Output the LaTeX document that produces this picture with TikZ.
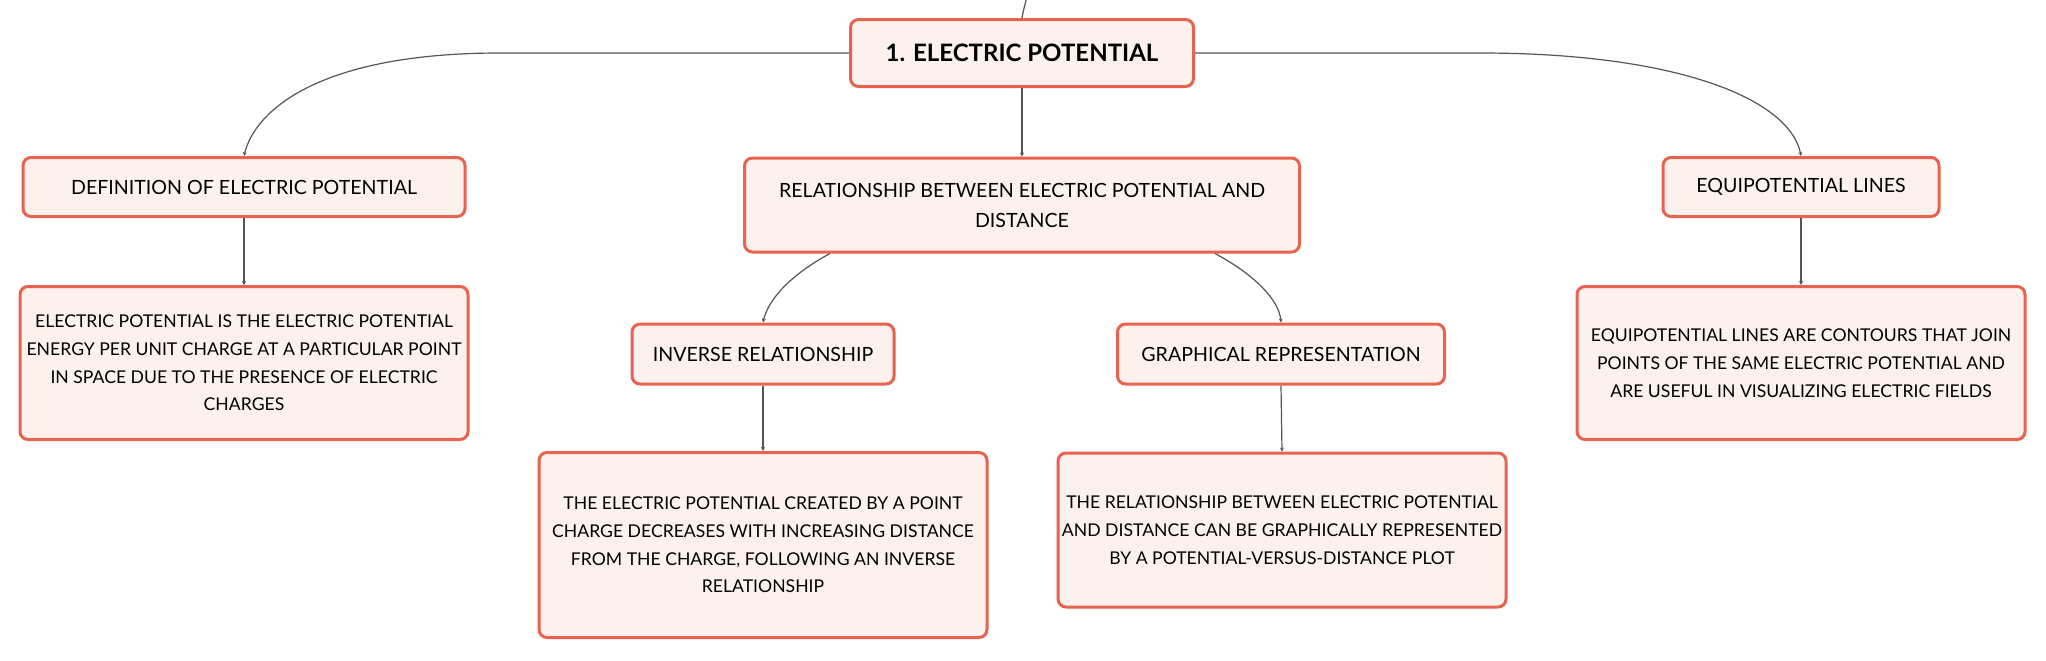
\documentclass[tikz,border=0pt]{standalone}
\usepackage{fontspec}
\setmainfont{Lato}
\usetikzlibrary{arrows.meta}
\definecolor{boxline}{HTML}{E8634F}
\definecolor{boxfill}{HTML}{FDF1EE}
\definecolor{wire}{HTML}{555555}

\begin{document}
\begin{tikzpicture}[x=0.5pt,y=-0.5pt,
	box/.style={draw=boxline,fill=boxfill,line width=1.5pt,rounded corners=4pt,inner sep=0pt,align=center,text=black},
	head/.style={box,font=\fontsize{12}{14}\selectfont\bfseries},
	topic/.style={box,font=\fontsize{9.8}{15}\selectfont},
	note/.style={box,font=\fontsize{8.8}{13.85}\selectfont,minimum width=224pt},
	wire/.style={draw=wire,line width=0.6pt,-{Stealth[length=2pt,width=2pt]}}]
			%%%%% START %%%%%
			\def\yhead{53}
			\def\ytop{187}
			\def\ysub{354}
			\useasboundingbox (0,0) rectangle (2046,660);
			
			\node[head,minimum width=171.5pt,minimum height=33.5pt] (title) at (1022,\yhead) {1. ELECTRIC POTENTIAL};
			\coordinate (parent) at (1034,-40);
			
			\node[topic,minimum width=221pt,minimum height=29.5pt] (defn) at (244,\ytop) {DEFINITION OF ELECTRIC POTENTIAL};
			\node[topic,minimum width=277.5pt,minimum height=47pt] (rel) at (1022,205) {RELATIONSHIP BETWEEN ELECTRIC POTENTIAL AND\\DISTANCE};
			\node[topic,minimum width=138pt,minimum height=29.5pt] (equi) at (1801,\ytop) {EQUIPOTENTIAL LINES};
			
			\node[topic,minimum width=131pt,minimum height=30pt] (inv) at (763,\ysub) {INVERSE RELATIONSHIP};
			\node[topic,minimum width=163.5pt,minimum height=30pt] (graph) at (1281,\ysub) {GRAPHICAL REPRESENTATION};
			
			\node[note,minimum height=76.5pt] (defntext) at (244,363) {ELECTRIC POTENTIAL IS THE ELECTRIC POTENTIAL\\ENERGY PER UNIT CHARGE AT A PARTICULAR POINT\\IN SPACE DUE TO THE PRESENCE OF ELECTRIC\\CHARGES};
			\node[note,minimum height=76.5pt] (equitext) at (1801,363) {EQUIPOTENTIAL LINES ARE CONTOURS THAT JOIN\\POINTS OF THE SAME ELECTRIC POTENTIAL AND\\ARE USEFUL IN VISUALIZING ELECTRIC FIELDS};
			\node[note,minimum height=92.5pt] (invtext) at (763,545) {THE ELECTRIC POTENTIAL CREATED BY A POINT\\CHARGE DECREASES WITH INCREASING DISTANCE\\FROM THE CHARGE, FOLLOWING AN INVERSE\\RELATIONSHIP};
			\node[note,minimum height=77pt] (graphtext) at (1282,530) {THE RELATIONSHIP BETWEEN ELECTRIC POTENTIAL\\AND DISTANCE CAN BE GRAPHICALLY REPRESENTED\\BY A POTENTIAL-VERSUS-DISTANCE PLOT};
			
			% links from the title
			\draw[wire,-] (parent) .. controls (1030,-10) and (1024,5) .. (title.north);
			\draw[wire] (title.west) -- (500,\yhead) .. controls (320,\yhead) and (255,110) .. (defn.north);
			\draw[wire] (title.east) -- (1480,\yhead) .. controls (1680,\yhead) and (1790,100) .. (equi.north);
			\draw[wire] (title.south) -- (rel.north);
			
			% links below
			\draw[wire] (defn.south) -- (defntext.north);
			\draw[wire] (equi.south) -- (equitext.north);
			\draw[wire] (rel.south -| 830,0) .. controls (790,275) and (768,300) .. (inv.north);
			\draw[wire] (rel.south -| 1215,0) .. controls (1255,275) and (1279,300) .. (graph.north);
			\draw[wire] (inv.south) -- (invtext.north);
			\draw[wire] (graph.south) -- (graphtext.north);
			%%%%% END %%%%%
\end{tikzpicture}
\end{document}
